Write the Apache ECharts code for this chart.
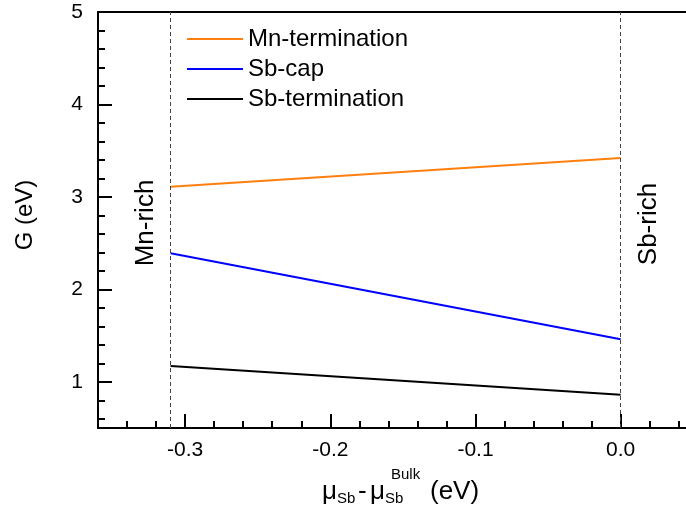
<!DOCTYPE html>
<html>
<head>
<meta charset="utf-8">
<script src="https://cdn.jsdelivr.net/npm/echarts@6/dist/echarts.min.js"></script>
<style>
  html, body { margin: 0; padding: 0; background: #fff; }
  #main { width: 686px; height: 512px; }
</style>
</head>
<body>
<div id="main"></div>
<script>
    // chemical potential range ends (eV)
    let muEnds = [-0.31, 0.0];
    let mnTerm = [3.11, 3.42];
    let sbCap = [2.39, 1.46];
    let sbTerm = [1.17, 0.86];

    let xMajor = [-0.3, -0.2, -0.1, 0.0];
    let xMinor = [-0.34, -0.32, -0.28, -0.26, -0.24, -0.22, -0.18, -0.16, -0.14, -0.12,
                  -0.08, -0.06, -0.04, -0.02, 0.02, 0.04];
    let yMajor = [1, 2, 3, 4, 5];
    let yMinor = [0.6, 0.8, 1.2, 1.4, 1.6, 1.8, 2.2, 2.4, 2.6, 2.8,
                  3.2, 3.4, 3.6, 3.8, 4.2, 4.4, 4.6, 4.8];

    let myChart = echarts.init(document.getElementById('main'));

    function pairs(ys) {
        let d = [];
        for (let i = 0; i < muEnds.length; i++) {
            d.push([muEnds[i], ys[i]]);
        }
        return d;
    }

    let font = 'Liberation Sans, Arial, sans-serif';
    let axisLine = { show: true, onZero: false, lineStyle: { color: '#000', width: 2 } };

    let option = {
        animation: false,
        grid: { left: 98, right: 0, top: 12, bottom: 84, show: false },
        legend: {
            orient: 'vertical',
            left: 187,
            top: 27,
            padding: 0,
            itemWidth: 56,
            itemHeight: 14,
            itemGap: 6,
            icon: 'path://M0,6 L56,6 L56,8 L0,8 Z',
            textStyle: { fontFamily: font, fontSize: 24, color: '#000', lineHeight: 24 },
            data: ['Mn-termination', 'Sb-cap', 'Sb-termination']
        },
        xAxis: [{
            type: 'value', min: -0.36, max: 0.045, position: 'bottom',
            axisLine: axisLine,
            splitLine: { show: false },
            axisTick: { inside: true, length: 14, customValues: xMajor, lineStyle: { color: '#000', width: 2 } },
            axisLabel: {
                customValues: xMajor, margin: 12, color: '#000',
                fontFamily: font, fontSize: 21,
                formatter: function (v) { return v.toFixed(1); }
            }
        }, {
            type: 'value', min: -0.36, max: 0.045, position: 'bottom',
            axisLine: { show: false, onZero: false },
            splitLine: { show: false },
            axisTick: { inside: true, length: 7, customValues: xMinor, lineStyle: { color: '#000', width: 2 } },
            axisLabel: { show: false }
        }, {
            type: 'value', min: -0.36, max: 0.045, position: 'top',
            axisLine: axisLine,
            splitLine: { show: false },
            axisTick: { show: false },
            axisLabel: { show: false }
        }],
        yAxis: [{
            type: 'value', min: 0.5, max: 5, position: 'left',
            axisLine: axisLine,
            splitLine: { show: false },
            axisTick: { inside: true, length: 14, customValues: yMajor, lineStyle: { color: '#000', width: 2 } },
            axisLabel: { customValues: yMajor, margin: 15, color: '#000', fontFamily: font, fontSize: 21 }
        }, {
            type: 'value', min: 0.5, max: 5, position: 'left',
            axisLine: { show: false, onZero: false },
            splitLine: { show: false },
            axisTick: { inside: true, length: 7, customValues: yMinor, lineStyle: { color: '#000', width: 2 } },
            axisLabel: { show: false }
        }],
        series: [{
            name: 'Mn-termination',
            type: 'line',
            symbol: 'none',
            data: pairs(mnTerm),
            lineStyle: { color: '#ff7f0e', width: 2 },
            itemStyle: { color: '#ff7f0e' },
            markLine: {
                silent: true,
                symbol: 'none',
                label: { show: false },
                lineStyle: { type: [4, 3], color: '#444', width: 1 },
                data: [{ xAxis: muEnds[0] }, { xAxis: muEnds[1] }]
            }
        }, {
            name: 'Sb-cap',
            type: 'line',
            symbol: 'none',
            data: pairs(sbCap),
            lineStyle: { color: '#0000ff', width: 2 },
            itemStyle: { color: '#0000ff' }
        }, {
            name: 'Sb-termination',
            type: 'line',
            symbol: 'none',
            data: pairs(sbTerm),
            lineStyle: { color: '#000', width: 2 },
            itemStyle: { color: '#000' }
        }],
        graphic: [
            { type: 'text', x: 25, y: 215, rotation: Math.PI / 2,
              style: { text: 'G (eV)', font: '24px ' + font, fill: '#000', align: 'center', verticalAlign: 'middle' } },
            { type: 'text', x: 146, y: 223, rotation: Math.PI / 2,
              style: { text: 'Mn-rich', font: '26px ' + font, fill: '#000', align: 'center', verticalAlign: 'middle' } },
            { type: 'text', x: 649, y: 224, rotation: Math.PI / 2,
              style: { text: 'Sb-rich', font: '26px ' + font, fill: '#000', align: 'center', verticalAlign: 'middle' } },
            // x axis title: mu_Sb - mu_Sb^Bulk (eV)
            { type: 'text', x: 322, y: 492, style: { text: 'μ', font: '26px ' + font, fill: '#000', verticalAlign: 'middle' } },
            { type: 'text', x: 337, y: 499, style: { text: 'Sb', font: '15px ' + font, fill: '#000', verticalAlign: 'middle' } },
            { type: 'text', x: 358, y: 492, style: { text: '-', font: '26px ' + font, fill: '#000', verticalAlign: 'middle' } },
            { type: 'text', x: 370, y: 492, style: { text: 'μ', font: '26px ' + font, fill: '#000', verticalAlign: 'middle' } },
            { type: 'text', x: 385, y: 499, style: { text: 'Sb', font: '15px ' + font, fill: '#000', verticalAlign: 'middle' } },
            { type: 'text', x: 391, y: 475, style: { text: 'Bulk', font: '15px ' + font, fill: '#000', verticalAlign: 'middle' } },
            { type: 'text', x: 430, y: 492, style: { text: '(eV)', font: '26px ' + font, fill: '#000', verticalAlign: 'middle' } }
        ]
    };

    myChart.setOption(option);
</script>
</body>
</html>
